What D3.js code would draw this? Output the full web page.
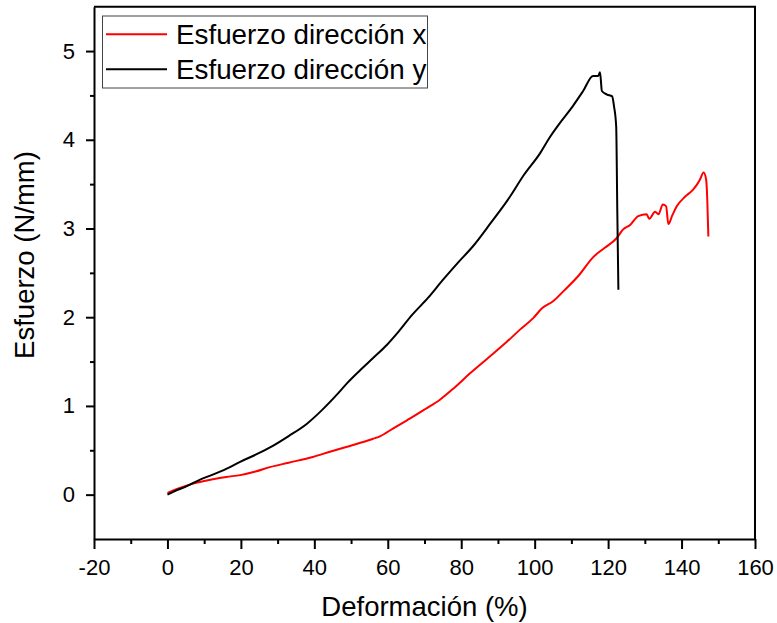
<!DOCTYPE html>
<html>
<head>
<meta charset="utf-8">
<script src="https://cdn.jsdelivr.net/npm/d3@7"></script>
<style>
  html, body { margin: 0; padding: 0; background: #fff; }
  svg { display: block; font-family: "Liberation Sans", Arial, sans-serif; }
</style>
</head>
<body>
<svg id="chart" width="777" height="623"></svg>
<script>
// Tensile test: stress vs. strain in two directions
const seriesNames = ["Esfuerzo dirección x", "Esfuerzo dirección y"];
const seriesColors = ["#ff0000", "#000000"];

// Direction x (red)
const xDirStrain = [0, 3, 7, 12, 16, 19.8, 24, 27.9, 33, 39.6, 44, 48.9, 53, 56, 58, 61.4, 66.1, 70, 74.2, 78,
  82.4, 87, 92.5, 96, 99.6, 102, 105, 108, 112, 116, 119, 122.3, 124.1, 126, 128.2, 130.5, 131.2, 132.8, 133.7,
  134.9, 135.8, 136.4, 137.5, 138.7, 141, 143.2, 145, 146, 146.7, 147, 147.3];
const xDirStress = [0.02, 0.07, 0.124, 0.17, 0.2, 0.22, 0.26, 0.31, 0.36, 0.425, 0.48, 0.54, 0.59, 0.63, 0.66, 0.745, 0.86, 0.96, 1.07, 1.2,
  1.367, 1.53, 1.725, 1.86, 1.99, 2.1, 2.18, 2.3, 2.47, 2.68, 2.78, 2.89, 2.99, 3.04, 3.14, 3.16, 3.11, 3.19, 3.16,
  3.27, 3.25, 3.05, 3.15, 3.25, 3.36, 3.44, 3.55, 3.63, 3.55, 3.33, 2.91];

// Direction y (black)
const yDirStrain = [0, 2, 5, 8.9, 12, 16, 19.8, 24, 28.7, 33, 38, 42, 46.2, 49, 52.4, 56, 59.8, 63, 66.5, 71,
  75, 79, 83.2, 88, 93.3, 97, 101.5, 104, 106.9, 110.4, 113.2, 115.9, 117.3, 117.8, 118.3, 119.7, 121.1, 121.6,
  122.2, 122.5, 122.8];
const yDirStress = [0, 0.04, 0.09, 0.17, 0.22, 0.29, 0.37, 0.45, 0.55, 0.66, 0.8, 0.95, 1.13, 1.26, 1.4, 1.54, 1.69, 1.84, 2.02, 2.22,
  2.42, 2.61, 2.8, 3.06, 3.36, 3.6, 3.85, 4.02, 4.19, 4.38, 4.55, 4.72, 4.72, 4.76, 4.55, 4.51, 4.49, 4.38,
  4.15, 3.2, 2.31];

const xTicks = [-20, 0, 20, 40, 60, 80, 100, 120, 140, 160];
const xMinorTicks = [-10, 10, 30, 50, 70, 90, 110, 130, 150];
const yTicks = [0, 1, 2, 3, 4, 5];
const yMinorTicks = [0.5, 1.5, 2.5, 3.5, 4.5];

const xLabel = "Deformación (%)";
const yLabel = "Esfuerzo (N/mm)";

const svg = d3.select("#chart");
const plotLeft = 94, plotRight = 755, plotTop = 6.7, plotBottom = 539;

const x = d3.scaleLinear().domain([-20, 160]).range([plotLeft, plotRight]);
const y = d3.scaleLinear().domain([-0.5, 5.5]).range([plotBottom, plotTop]);

// Curves
const series = [
  { name: seriesNames[0], color: seriesColors[0], pts: xDirStrain.map((s, i) => [s, xDirStress[i]]) },
  { name: seriesNames[1], color: seriesColors[1], pts: yDirStrain.map((s, i) => [s, yDirStress[i]]) }
];
const line = d3.line().x(d => x(d[0])).y(d => y(d[1])).curve(d3.curveMonotoneX);
svg.append("g").selectAll("path").data(series).join("path")
  .attr("d", d => line(d.pts))
  .attr("fill", "none")
  .attr("stroke", d => d.color)
  .attr("stroke-width", 2)
  .attr("stroke-linejoin", "round");

// Frame (top and right)
svg.append("path")
  .attr("d", `M${plotLeft},${plotTop}H${plotRight}V${plotBottom}`)
  .attr("fill", "none").attr("stroke", "#000").attr("stroke-width", 2);

// Axes
const plainNum = d => String(d);
const styleAxis = g => {
  g.select(".domain").attr("stroke-width", 2);
  g.selectAll(".tick line").attr("stroke-width", 2);
  g.selectAll("text").attr("font-size", 22).attr("fill", "#000");
};
svg.append("g").attr("transform", `translate(0,${plotBottom})`)
  .call(d3.axisBottom(x).tickValues(xMinorTicks).tickSize(5).tickFormat(""))
  .call(g => { g.select(".domain").remove(); g.selectAll(".tick line").attr("stroke-width", 2); });
svg.append("g").attr("transform", `translate(0,${plotBottom})`)
  .call(d3.axisBottom(x).tickValues(xTicks).tickSize(10).tickSizeOuter(0).tickPadding(10).tickFormat(plainNum))
  .call(styleAxis);

svg.append("g").attr("transform", `translate(${plotLeft},0)`)
  .call(d3.axisLeft(y).tickValues(yMinorTicks).tickSize(4).tickFormat(""))
  .call(g => { g.select(".domain").remove(); g.selectAll(".tick line").attr("stroke-width", 2); });
svg.append("g").attr("transform", `translate(${plotLeft},0)`)
  .call(d3.axisLeft(y).tickValues(yTicks).tickSize(8).tickSizeOuter(0).tickPadding(11).tickFormat(plainNum))
  .call(styleAxis);

// Axis titles
svg.append("text")
  .attr("x", (plotLeft + plotRight) / 2).attr("y", 616)
  .attr("text-anchor", "middle").attr("font-size", 27.5)
  .text(xLabel);
svg.append("text")
  .attr("transform", `translate(34,255) rotate(-90)`)
  .attr("text-anchor", "middle").attr("font-size", 27.5)
  .text(yLabel);

// Legend
const legend = svg.append("g");
legend.append("rect")
  .attr("x", 102.5).attr("y", 16).attr("width", 325).attr("height", 72)
  .attr("fill", "#fff").attr("stroke", "#444").attr("stroke-width", 1);
const rows = legend.selectAll("g.row").data(series).join("g")
  .attr("transform", (d, i) => `translate(0,${34.3 + i * 35})`);
rows.append("line")
  .attr("x1", 106).attr("x2", 167).attr("y1", 0).attr("y2", 0)
  .attr("stroke", d => d.color).attr("stroke-width", 2);
rows.append("text")
  .attr("x", 176).attr("y", 9.5).attr("font-size", 27.8)
  .text(d => d.name);
</script>
</body>
</html>
